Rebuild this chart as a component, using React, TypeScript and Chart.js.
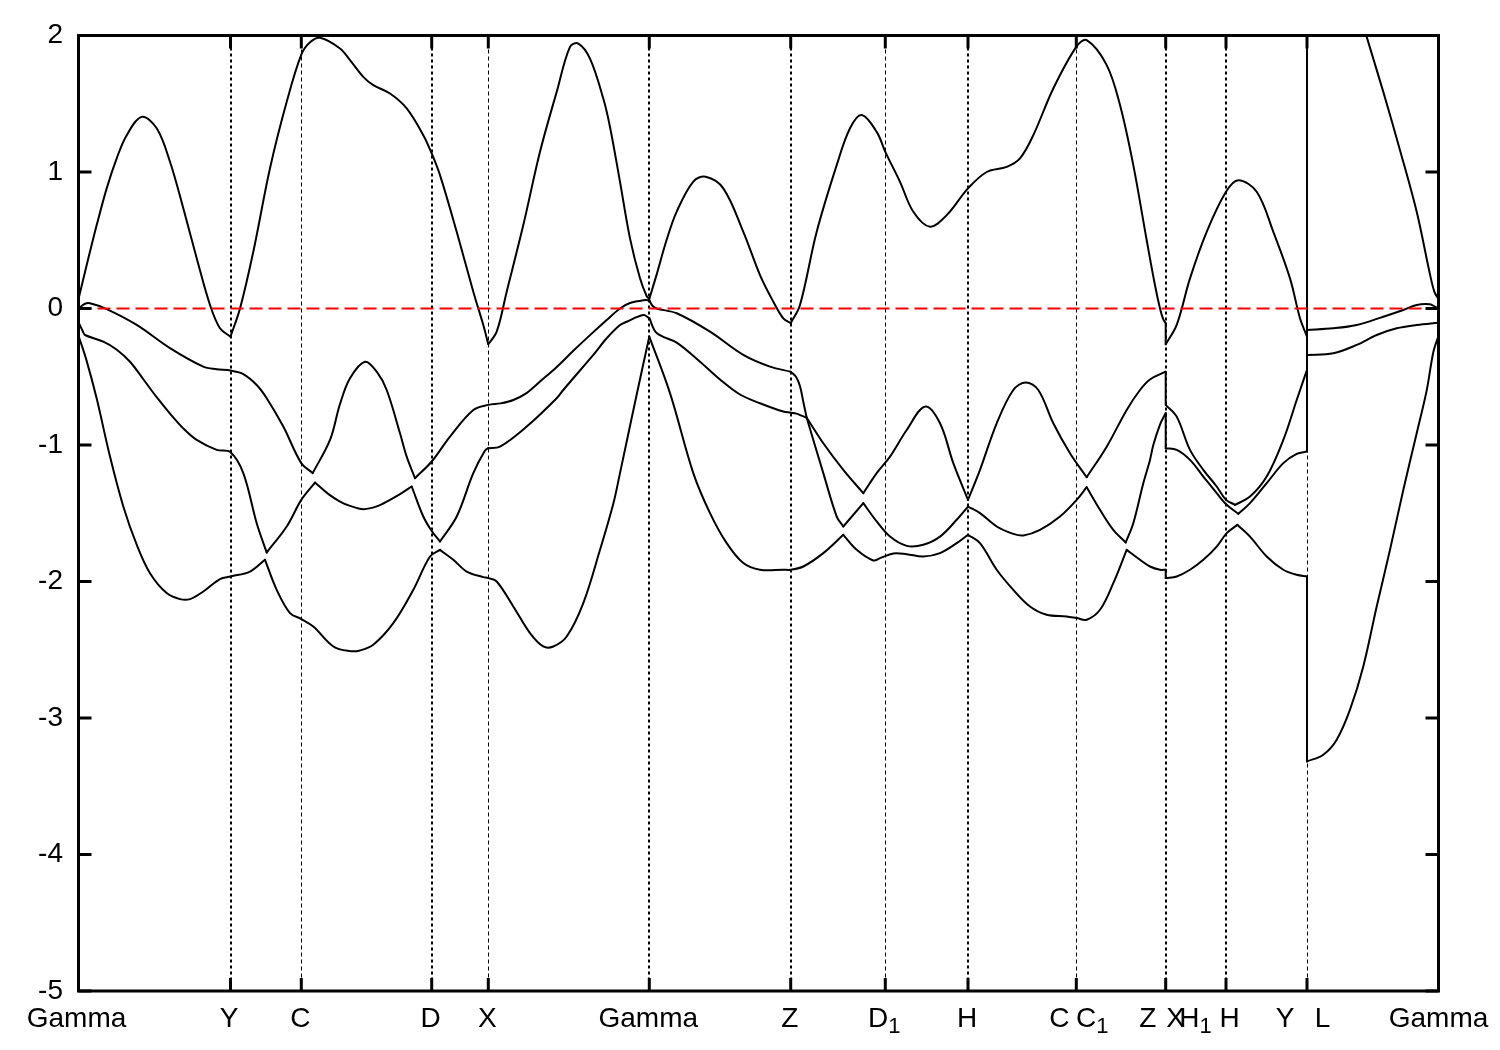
import React, { useEffect, useRef } from "react";
import { Chart, registerables } from "chart.js";

Chart.register(...registerables);

type Pt = [number, number];

// ---------------- data ----------------
// k-path positions of the high-symmetry points
const K_TICKS = [0, 152, 222.8, 353.2, 409.8, 570.8, 712.2, 806.8, 889.5, 997.8, 1087.2, 1147.5, 1228.5, 1360];
const K_TICK_LABELS: string[][] = [
  ["Gamma"], ["Y"], ["C"], ["D"], ["X"], ["Gamma"], ["Z"], ["D_1"], ["H"],
  ["C", "C_1"], ["Z", "X"], ["H_1", "H"], ["Y", "L"], ["Gamma"],
];
const E_TICKS = [2, 1, 0, -1, -2, -3, -4, -5];
const E_MIN = -5;
const E_MAX = 2;
const K_MAX = 1360;
const FERMI_LEVEL = 0;

// bands as pieces of (k, E)
const BAND_A: Pt[][] = [
  [[0, 0.07], [8.2, 0.318], [18.2, 0.611], [28.2, 0.88], [38.2, 1.1], [48.2, 1.27], [63.2, 1.404], [78.2, 1.32], [91.5, 1.075], [104.8, 0.734], [118.2, 0.368], [131.5, 0.026], [141.5, -0.145], [152, -0.206]],
  [[152, -0.206], [161.5, 0.0], [174.8, 0.416], [191.5, 1.027], [208.2, 1.514], [222.8, 1.86], [231.5, 1.95], [241.5, 1.983], [261.5, 1.905], [271.5, 1.82], [284.8, 1.697], [294.8, 1.636], [311.5, 1.575], [328.2, 1.466], [344.8, 1.27], [353.2, 1.136], [361.5, 0.977], [378.2, 0.562], [394.8, 0.123], [404.8, -0.121], [409.8, -0.262]],
  [[409.8, -0.262], [418.2, -0.17], [428.2, 0.123], [444.8, 0.611], [461.5, 1.148], [478.2, 1.587], [491.5, 1.917], [499.8, 1.941], [511.5, 1.831], [524.8, 1.538], [531.5, 1.33], [541.5, 0.928], [551.5, 0.514], [561.5, 0.221], [568.2, 0.09], [570.8, 0.07]],
  [[570.8, 0.07], [578.2, 0.25], [588, 0.5], [598.2, 0.71], [614.8, 0.93], [627.2, 0.965], [644.8, 0.88], [664.8, 0.562], [681.5, 0.245], [694.8, 0.05], [704.8, -0.072], [712.2, -0.108]],
  [[712.2, -0.108], [721.5, 0.026], [738.2, 0.562], [758.2, 1.05], [771.5, 1.32], [783.2, 1.417], [798.2, 1.294], [806.8, 1.148], [821.5, 0.928], [834.8, 0.709], [851.5, 0.599], [868.2, 0.684], [889.5, 0.88], [908.2, 1.0], [928.2, 1.038], [941.5, 1.1], [954.8, 1.27], [974.8, 1.612], [997.8, 1.917], [1008.2, 1.966], [1028.2, 1.783], [1041.5, 1.49], [1054.8, 1.05], [1068.2, 0.5], [1076.5, 0.17], [1081.5, 0.0], [1084.8, -0.08], [1087.2, -0.108]],
  [[1087.2, -0.262], [1098.2, -0.12], [1111.5, 0.221], [1128.2, 0.562], [1147.5, 0.855], [1159.8, 0.94], [1178.2, 0.855], [1194.8, 0.562], [1211.5, 0.221], [1221.5, -0.072], [1228.5, -0.206]],
  [[1228.5, 2.95], [1245, 2.85], [1262, 2.6], [1276, 2.3], [1288.2, 1.99], [1304.8, 1.587], [1321.5, 1.16], [1338.2, 0.709], [1351.5, 0.25], [1356, 0.12], [1360, 0.07]],
];

const BAND_B: Pt[][] = [
  [[0, 0.0], [6.5, 0.035], [11.5, 0.038], [28.2, -0.004], [58.2, -0.12], [91.5, -0.29], [124.8, -0.426], [138.2, -0.445], [152, -0.455], [164.8, -0.48], [178.2, -0.56], [188.2, -0.657], [204.8, -0.865], [222.8, -1.133], [234.2, -1.206]],
  [[234.2, -1.206], [251.5, -0.963], [261.5, -0.7], [271.5, -0.511], [286.5, -0.39], [298.2, -0.463], [308.2, -0.597], [321.5, -0.914], [328.2, -1.085], [336.5, -1.243]],
  [[336.5, -1.243], [353.2, -1.121], [371.5, -0.938], [394.8, -0.743], [409.8, -0.706], [422, -0.695], [434.8, -0.67], [448, -0.62], [461.5, -0.535], [478, -0.43], [494.8, -0.31], [511.5, -0.195], [528.2, -0.084], [541.5, 0.0], [551.5, 0.04], [566.5, 0.062], [570.8, 0.06]],
  [[570.8, 0.06], [574, 0.02], [578, 0.0], [598.2, -0.035], [631.5, -0.17], [664.8, -0.34], [691.5, -0.426], [712.2, -0.463]],
  [[712.2, -0.463], [717.5, -0.5], [721.5, -0.57], [725, -0.69], [728.2, -0.8]],
  [[728.2, -0.8], [744.8, -0.987], [764.8, -1.182], [784.8, -1.353]],
  [[784.8, -1.353], [798.2, -1.206], [811.5, -1.085], [828.2, -0.89], [846.5, -0.719], [861.5, -0.841], [874.8, -1.133], [889.5, -1.402]],
  [[889.5, -1.402], [901.5, -1.182], [918.2, -0.841], [934.8, -0.597], [947.3, -0.542], [959.8, -0.597], [974.8, -0.841], [991.5, -1.06], [1008.2, -1.236]],
  [[1008.2, -1.236], [1028.2, -1.012], [1048.2, -0.743], [1061.5, -0.597], [1071.5, -0.52], [1087.2, -0.463]],
  [[1087.2, -0.706], [1098.2, -0.792], [1111.5, -1.036], [1124.8, -1.182], [1138.2, -1.304], [1147.5, -1.402], [1156.5, -1.438]],
  [[1156.5, -1.438], [1171.5, -1.378], [1188.2, -1.231], [1204.8, -0.963], [1218.2, -0.67], [1228.5, -0.45]],
  [[1228.5, -0.157], [1254.8, -0.145], [1278.2, -0.121], [1304.8, -0.06], [1324.8, -0.011], [1338.2, 0.026], [1351.5, 0.031], [1356.5, 0.013], [1360, 0.0]],
];

const BAND_C: Pt[][] = [
  [[0, -0.1], [4.5, -0.17], [6.5, -0.194], [24.8, -0.243], [38, -0.3], [51.5, -0.39], [65, -0.52], [78.2, -0.65], [91.5, -0.77], [105, -0.88], [118.2, -0.963], [138.2, -1.036], [152, -1.053], [164.8, -1.206], [178.2, -1.573], [188.2, -1.788]],
  [[188.2, -1.788], [208.2, -1.597], [222.8, -1.402], [236.5, -1.275]],
  [[236.5, -1.275], [250, -1.36], [261.5, -1.414], [271.5, -1.446], [284.8, -1.47], [298.2, -1.45], [311.5, -1.402], [321.5, -1.36], [333.2, -1.304]],
  [[333.2, -1.304], [344.8, -1.524], [353.2, -1.63], [361.5, -1.707]],
  [[361.5, -1.707], [378.2, -1.524], [394.8, -1.206], [406.5, -1.04], [409.8, -1.023]],
  [[409.8, -1.023], [421.5, -1.012], [448.2, -0.865], [478.2, -0.657], [484.8, -0.597], [494.8, -0.511], [514.8, -0.34], [528.2, -0.218], [541.5, -0.121], [548.2, -0.097], [564.8, -0.048], [570.8, -0.07]],
  [[570.8, -0.07], [578.2, -0.18], [598.2, -0.25], [621.5, -0.39], [641.5, -0.52], [661.5, -0.63], [681.5, -0.694], [704.8, -0.755], [712.2, -0.763]],
  [[712.2, -0.763], [718, -0.77], [723, -0.785], [728.2, -0.8]],
  [[728.2, -0.8], [744.8, -1.206], [758.2, -1.524], [764.8, -1.597]],
  [[764.8, -1.597], [784.8, -1.426]],
  [[784.8, -1.426], [798.2, -1.56], [811.5, -1.671], [828.2, -1.739], [844.8, -1.731], [861.5, -1.671], [878.2, -1.548], [889.5, -1.451]],
  [[889.5, -1.451], [901.5, -1.499], [918.2, -1.597], [934.8, -1.651], [944.8, -1.663], [961.5, -1.622], [981.5, -1.524], [998.2, -1.402], [1008.2, -1.309]],
  [[1008.2, -1.309], [1021.5, -1.475], [1034.8, -1.622], [1047.2, -1.714]],
  [[1047.2, -1.714], [1054.8, -1.573], [1064.8, -1.28], [1071.5, -1.109], [1074.8, -1.0], [1081.5, -0.85], [1087.2, -0.767]],
  [[1087.2, -1.023], [1098.2, -1.036], [1111.5, -1.109], [1124.8, -1.231], [1138.2, -1.353], [1148.2, -1.438], [1159.8, -1.504]],
  [[1159.8, -1.504], [1171.5, -1.426], [1188.2, -1.28], [1204.8, -1.133], [1218.2, -1.065], [1228.5, -1.048]],
  [[1228.5, -0.34], [1254.8, -0.328], [1278.2, -0.267], [1298.2, -0.194], [1318.2, -0.145], [1338.2, -0.121], [1360, -0.104]],
];

const BAND_D: Pt[][] = [
  [[0, -0.2], [8, -0.38], [18.2, -0.66], [31.5, -1.085], [44.8, -1.45], [58.2, -1.73], [71.5, -1.939], [88.2, -2.085], [101.5, -2.129], [111.5, -2.129], [124.8, -2.073], [141.5, -1.982], [152, -1.963], [171.5, -1.927], [186.5, -1.841]],
  [[186.5, -1.841], [198.2, -2.061], [211.5, -2.231], [222.8, -2.275], [234.8, -2.33], [254.8, -2.476], [271.5, -2.51], [281.5, -2.505], [294.8, -2.463], [314.8, -2.305], [334.8, -2.061], [351.5, -1.817], [361.5, -1.768]],
  [[361.5, -1.768], [374.8, -1.841], [388.2, -1.927], [404.8, -1.968], [409.8, -1.975], [418.2, -2.0], [434.8, -2.183], [451.5, -2.378], [464.8, -2.476], [474.8, -2.476], [488.2, -2.403], [504.8, -2.158], [521.5, -1.768], [534.8, -1.43], [541.5, -1.206], [558.2, -0.63], [570.8, -0.206]],
  [[570.8, -0.206], [591.5, -0.62], [614.8, -1.206], [631.5, -1.499], [648.2, -1.719], [664.8, -1.865], [681.5, -1.914], [704.8, -1.914], [712.2, -1.914], [724.8, -1.89], [744.8, -1.792], [764.8, -1.658]],
  [[764.8, -1.658], [778.2, -1.768], [794.8, -1.846], [801.5, -1.829], [814.8, -1.795], [828.2, -1.8], [844.8, -1.817], [861.5, -1.792], [878.2, -1.719], [889.5, -1.658]],
  [[889.5, -1.658], [901.5, -1.719], [918.2, -1.914], [934.8, -2.061], [951.5, -2.183], [968.2, -2.244], [988.2, -2.256], [998.2, -2.268], [1008.2, -2.28], [1021.5, -2.207], [1034.8, -2.012], [1048.2, -1.768]],
  [[1048.2, -1.768], [1061.5, -1.841], [1071.5, -1.89], [1081.5, -1.914], [1087.2, -1.914]],
  [[1087.2, -1.975], [1098.2, -1.963], [1111.5, -1.914], [1124.8, -1.841], [1138.2, -1.744], [1148.2, -1.646], [1158.8, -1.585]],
  [[1158.8, -1.585], [1171.5, -1.671], [1188.2, -1.817], [1204.8, -1.914], [1218.2, -1.951], [1228.5, -1.963]],
  [[1228.5, -3.318], [1244.8, -3.269], [1258.2, -3.159], [1271.5, -2.939], [1284.8, -2.622], [1298.2, -2.183], [1311.5, -1.768], [1324.8, -1.329], [1338.2, -0.914], [1348.2, -0.6], [1354.8, -0.32], [1360, -0.2]],
];

const BANDS = [BAND_A, BAND_B, BAND_C, BAND_D];

// ---------------- styles / layout ----------------
const FONT_FAMILY = '"Liberation Sans", Arial, Helvetica, sans-serif';
const FONT_SIZE = 28;
const SUB_SIZE = 22;
const SUB_DROP = 6;
const LABEL_BASELINE = 1027;
const YLABEL_RIGHT = 63;
const TICK_LEN = 13;
const LABEL_DX: number[][] = [[-2], [-1.5], [-1], [-1], [-1], [-1], [-1], [-1], [-1], [-17, 16], [-18, 10], [-30.5, 3.5], [-22, 15.5], [0]];
const GRID_W = [0, 2, 1, 2, 1, 2, 2, 1, 2, 1, 2, 2, 1, 0];
const CURVE_TENSION = 0.35;

type P = { x: number; y: number };

// every piece and every vertical jump between pieces becomes its own dataset
function pieceSeries(pieces: Pt[][]): P[][] {
  const out: P[][] = [];
  pieces.forEach((piece, i) => {
    if (i > 0) {
      const prevPiece = pieces[i - 1];
      const last = prevPiece[prevPiece.length - 1];
      const first = piece[0];
      if (last[1] !== first[1]) {
        out.push([
          { x: last[0], y: last[1] },
          { x: first[0], y: first[1] },
        ]);
      }
    }
    out.push(piece.map(([x, y]) => ({ x, y })));
  });
  return out;
}

function drawLabel(ctx: CanvasRenderingContext2D, text: string, cx: number, baseline: number) {
  const [base, sub] = text.split("_");
  const mainFont = `${FONT_SIZE}px ${FONT_FAMILY}`;
  const subFont = `${SUB_SIZE}px ${FONT_FAMILY}`;
  ctx.font = mainFont;
  const wb = ctx.measureText(base).width;
  let ws = 0;
  if (sub) {
    ctx.font = subFont;
    ws = ctx.measureText(sub).width;
  }
  const x0 = cx - (wb + ws) / 2;
  ctx.textAlign = "left";
  ctx.textBaseline = "alphabetic";
  ctx.font = mainFont;
  ctx.fillText(base, x0, baseline);
  if (sub) {
    ctx.font = subFont;
    ctx.fillText(sub, x0 + wb, baseline + SUB_DROP);
  }
}

const framePlugin = {
  id: "gnuframe",
  beforeDatasetsDraw(chart: any) {
    const { ctx, chartArea: a, scales } = chart;
    const xs = scales.x;
    ctx.save();
    ctx.strokeStyle = "#000";
    K_TICKS.forEach((k, i) => {
      const w = GRID_W[i];
      if (!w) return;
      const px = Math.round(xs.getPixelForValue(k)) + (w === 1 ? 0.5 : 0);
      ctx.beginPath();
      ctx.lineWidth = w;
      ctx.setLineDash(w > 1 ? [3, 3] : [4, 3]);
      ctx.moveTo(px, a.top);
      ctx.lineTo(px, a.bottom);
      ctx.stroke();
    });
    ctx.restore();
  },
  afterDatasetsDraw(chart: any) {
    const { ctx, chartArea: a, scales } = chart;
    const xs = scales.x;
    const ys = scales.y;
    ctx.save();
    ctx.setLineDash([]);
    ctx.strokeStyle = "#000";
    ctx.fillStyle = "#000";
    ctx.lineWidth = 3;
    ctx.beginPath();
    E_TICKS.forEach((e) => {
      const py = ys.getPixelForValue(e);
      ctx.moveTo(a.left, py);
      ctx.lineTo(a.left + TICK_LEN, py);
      ctx.moveTo(a.right, py);
      ctx.lineTo(a.right - TICK_LEN, py);
    });
    K_TICKS.forEach((k) => {
      const px = xs.getPixelForValue(k);
      ctx.moveTo(px, a.top);
      ctx.lineTo(px, a.top + TICK_LEN);
      ctx.moveTo(px, a.bottom);
      ctx.lineTo(px, a.bottom - TICK_LEN);
    });
    ctx.stroke();
    ctx.lineWidth = 3;
    ctx.strokeRect(a.left, a.top, a.right - a.left, a.bottom - a.top);
    ctx.font = `${FONT_SIZE}px ${FONT_FAMILY}`;
    ctx.textAlign = "right";
    ctx.textBaseline = "middle";
    E_TICKS.forEach((e) => {
      ctx.fillText(String(e), YLABEL_RIGHT, ys.getPixelForValue(e));
    });
    K_TICKS.forEach((k, i) => {
      const px = xs.getPixelForValue(k);
      K_TICK_LABELS[i].forEach((t, j) => {
        drawLabel(ctx, t, px + LABEL_DX[i][j], LABEL_BASELINE);
      });
    });
    ctx.restore();
  },
};

export default function App() {
  const ref = useRef<HTMLCanvasElement>(null);
  useEffect(() => {
    const bandSets: any[] = [];
    BANDS.forEach((b) => {
      pieceSeries(b).forEach((series) => {
        bandSets.push({
          data: series,
          borderColor: "#000",
          borderWidth: 2,
          pointRadius: 0,
          tension: series.length > 2 ? CURVE_TENSION : 0,
          borderCapStyle: "round",
          borderJoinStyle: "round",
          clip: 0,
        });
      });
    });
    const datasets: any[] = [
      {
        data: [
          { x: 0, y: FERMI_LEVEL },
          { x: K_MAX, y: FERMI_LEVEL },
        ],
        borderColor: "#ff0000",
        borderWidth: 2,
        borderDash: [13, 6],
        pointRadius: 0,
        tension: 0,
      },
      ...bandSets,
    ];
    const chart = new Chart(ref.current as HTMLCanvasElement, {
      type: "line",
      data: { datasets },
      options: {
        animation: false,
        responsive: false,
        devicePixelRatio: 1,
        layout: { padding: { left: 78.5, right: 61.5, top: 35.5, bottom: 59 } },
        scales: {
          x: { type: "linear", min: 0, max: K_MAX, display: false },
          y: { type: "linear", min: E_MIN, max: E_MAX, display: false },
        },
        plugins: { legend: { display: false }, tooltip: { enabled: false } },
        elements: { point: { radius: 0 } },
      },
      plugins: [framePlugin],
    } as any);
    return () => chart.destroy();
  }, []);
  return (
    <div style={{ position: "absolute", left: 0, top: 0, width: 1500, height: 1050, background: "#fff" }}>
      <canvas ref={ref} width={1500} height={1050} style={{ width: 1500, height: 1050, display: "block" }} />
    </div>
  );
}
